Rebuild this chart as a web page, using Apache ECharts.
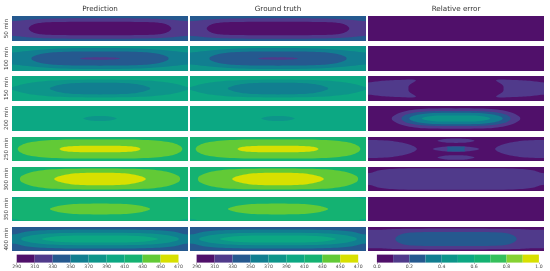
<!DOCTYPE html>
<html><head><meta charset="utf-8">
<style>html,body{margin:0;padding:0;background:#fff}#c{width:550px;height:271px;filter:blur(.35px)}</style>
<script src="https://cdn.jsdelivr.net/npm/echarts@6/dist/echarts.min.js"></script></head>
<body><div id="c"></div>
<script>
const columnTitles = ['Prediction', 'Ground truth', 'Relative error'];
const rowLabels = ['50 min', '100 min', '150 min', '200 min', '250 min', '300 min', '350 min', '400 min'];
const tempLevels = [290, 310, 330, 350, 370, 390, 410, 430, 450, 470];
const errorLevels = [0, .1, .2, .3, .4, .5, .6, .7, .8, .9, 1];
const tempColors = ['#50106a', '#503a8b', '#25598f', '#117e90', '#0d958a', '#0ca883', '#14b272', '#62ca36', '#d8e000'];
const errorColors = ['#50106a', '#503a8b', '#25598f', '#117e90', '#0d958a', '#0ca883', '#14b272', '#35c05c', '#86d233', '#d8e000'];
const FULL = [[0, 3], [3, 3], [3, 0]];
// each contour: [lower level of the band, quarter outline [u, v], centre u, centre v]
const temp50 = [[330, FULL], [310, [[0, .82], [.5, .8], [.75, .74], [.9, .64], [1.05, .5], [1.05, 0]]], [290, [[0, .54], [.5, .52], [.68, .45], [.77, .28], [.81, 0]]]];
const temp100 = [[370, FULL], [350, [[0, .84], [.5, .78], [.8, .62], [.95, .5], [1.05, .42], [1.05, 0]]], [330, [[0, .57], [.4, .54], [.62, .42], [.74, .22], [.78, 0]]], [310, [[0, .09], [.15, .08], [.225, 0]]]];
const temp150 = [[390, FULL], [370, [[0, .72], [.5, .65], [.8, .45], [.95, .2], [1.03, 0]]], [350, [[0, .47], [.3, .43], [.47, .28], [.57, 0]]]];
const temp200 = [[390, FULL], [370, [[0, .2], [.1, .17], [.19, 0]]]];
const temp250 = [[410, FULL], [430, [[0, .8], [.5, .76], [.78, .58], [.9, .3], [.935, 0]]], [450, [[0, .28], [.25, .26], [.4, .18], [.46, 0]]]];
const temp300 = [[410, FULL], [430, [[0, .87], [.5, .82], [.75, .62], [.88, .3], [.91, 0]]], [450, [[0, .52], [.28, .47], [.45, .26], [.52, 0]]]];
const temp350 = [[390, FULL], [410, [[0, 1.1], [.8, 1], [.95, .85], [1.05, .7], [1.05, 0]]], [430, [[0, .45], [.3, .41], [.48, .24], [.57, 0]]]];
const temp400 = [[330, FULL], [350, [[0, .8], [.5, .77], [.8, .65], [.95, .42], [1.05, .3], [1.05, 0]]], [370, [[0, .52], [.5, .48], [.75, .33], [.87, .14], [.895, 0]]], [390, [[0, .3], [.35, .28], [.56, .17], [.66, 0]]]];
const err50 = [[0, FULL]];
const err100 = [[0, FULL]];
const err150 = [[0, FULL], [.1, [[0, .49], [.14, .6], [.33, .68], [.54, .68], [.47, .27], [.46, 0]], 1, 0]];
const err200 = [[0, FULL], [.1, [[0, .81], [.4, .77], [.62, .5], [.71, .2], [.73, 0]]], [.2, [[0, .6], [.35, .56], [.55, .35], [.62, 0]]], [.3, [[0, .46], [.3, .42], [.47, .24], [.53, 0]]], [.4, [[0, .24], [.25, .22], [.39, 0]]]];
const err250 = [[0, FULL], [.1, [[0, .75], [.25, .68], [.45, .42], [.555, 0]], 1, 0], [.1, [[0, .18], [.12, .15], [.21, 0]], 0, .69], [.1, [[0, .22], [.15, .18], [.265, 0]], 0, 0], [.2, [[0, .2], [.095, .2], [.095, 0]], 0, 0], [.1, [[0, .19], [.12, .16], [.21, 0]], 0, -.71]];
const err300 = [[0, FULL], [.1, [[0, .9], [.6, .88], [.85, .75], [.95, .55], [1.05, .38], [1.05, 0]]]];
const err350 = [[0, FULL]];
const err400 = [[0, FULL], [.1, [[0, .87], [.6, .85], [.85, .78], [1.05, .7], [1.05, 0]]], [.2, [[0, .58], [.45, .56], [.62, .4], [.69, 0]]]];
const tempRows = [temp50, temp100, temp150, temp200, temp250, temp300, temp350, temp400];
const errorRows = [err50, err100, err150, err200, err250, err300, err350, err400];

const colX = [[12, 176], [190, 176], [368, 176]];
const rowY = [16, 46, 76, 106, 137, 167, 197, 227];
const rowH = [25, 25, 25, 25, 24, 24, 24, 24];
const barX = [[16.7, 161.8], [196.6, 161.6], [376.9, 162]];

const grid = [], xAxis = [], yAxis = [], series = [];
function outlinePoints(q, cu, cv) {
  const pts = [];
  q.forEach(p => pts.push([cu + p[0], cv + p[1]]));
  for (let i = q.length - 2; i >= 0; i--) pts.push([cu + q[i][0], cv - q[i][1]]);
  for (let i = 1; i < q.length; i++) pts.push([cu - q[i][0], cv - q[i][1]]);
  for (let i = q.length - 2; i > 0; i--) pts.push([cu - q[i][0], cv + q[i][1]]);
  return pts;
}
function roundOutline(pts) {            // closed Catmull-Rom through the outline points
  const out = [], n = pts.length;
  for (let i = 0; i < n; i++) {
    const p0 = pts[(i + n - 1) % n], p1 = pts[i], p2 = pts[(i + 1) % n], p3 = pts[(i + 2) % n];
    for (let s = 0; s < 8; s++) {
      const t = s / 8, t2 = t * t, t3 = t2 * t;
      out.push([0, 1].map(k => 0.5 * (2 * p1[k] + (p2[k] - p0[k]) * t + (2 * p0[k] - 5 * p1[k] + 4 * p2[k] - p3[k]) * t2 + (3 * p1[k] - p0[k] - 3 * p2[k] + p3[k]) * t3)));
    }
  }
  return out;
}
function addPanel(contours, levels, colors, col, row) {
  const idx = grid.length;
  grid.push({left: colX[col][0], width: colX[col][1], top: rowY[row], height: rowH[row]});
  xAxis.push({gridIndex: idx, type: 'value', min: -1, max: 1, show: false});
  const hasName = col === 0;
  yAxis.push({gridIndex: idx, type: 'value', min: -1, max: 1, show: hasName,
    name: hasName ? rowLabels[row] : '', nameLocation: 'middle', nameRotate: 90, nameGap: 2,
    nameTextStyle: {fontSize: 5.6, color: '#444', fontFamily: 'DejaVu Sans'},
    axisLine: {show: false}, axisTick: {show: false}, axisLabel: {show: false}, splitLine: {show: false}});
  series.push({type: 'custom', coordinateSystem: 'cartesian2d', xAxisIndex: idx, yAxisIndex: idx, clip: true, silent: true,
    data: contours.map((c, i) => [i]),
    encode: {x: 0, y: 0},
    renderItem(params, api) {
      const c = contours[params.dataIndex];
      const fill = colors[levels.indexOf(c[0])];
      const cu = c[2] || 0, cv = c[3] || 0;
      const centres = cu ? [cu, -cu] : [0];
      return {type: 'group', children: centres.map(u => {
        const raw = outlinePoints(c[1], u, cv);
        const pts = c[1] === FULL ? raw : roundOutline(raw);
        return {type: 'polygon', shape: {points: pts.map(p => api.coord(p))}, style: {fill, stroke: null}};
      })};
    }});
}
function addBar(levels, colors, col, fmt, interval) {
  const idx = grid.length;
  grid.push({left: barX[col][0], width: barX[col][1], top: 254.6, height: 8});
  xAxis.push({gridIndex: idx, type: 'value', min: levels[0], max: levels[levels.length - 1], interval,
    axisLine: {show: false}, axisTick: {show: true, length: 1.5, lineStyle: {color: '#666', width: .5}},
    splitLine: {show: false},
    axisLabel: {fontSize: 4.6, color: '#444', margin: 2, fontFamily: 'DejaVu Sans', formatter: fmt, showMinLabel: true, showMaxLabel: true, hideOverlap: false}});
  yAxis.push({gridIndex: idx, type: 'value', min: 0, max: 1, show: false});
  series.push({type: 'custom', coordinateSystem: 'cartesian2d', xAxisIndex: idx, yAxisIndex: idx, silent: true,
    data: colors.map((c, i) => [levels[i], levels[i + 1]]),
    encode: {x: [0, 1], y: []},
    renderItem(params, api) {
      const a = api.coord([api.value(0), 0]), b = api.coord([api.value(1), 1]);
      return {type: 'rect', shape: {x: a[0], y: b[1], width: b[0] - a[0], height: a[1] - b[1]},
        style: {fill: colors[params.dataIndex]}};
    }});
}
rowLabels.forEach((_, r) => {
  addPanel(tempRows[r], tempLevels, tempColors, 0, r);
  addPanel(tempRows[r], tempLevels, tempColors, 1, r);
  addPanel(errorRows[r], errorLevels, errorColors, 2, r);
});
addBar(tempLevels, tempColors, 0, v => String(v), 20);
addBar(tempLevels, tempColors, 1, v => String(v), 20);
addBar(errorLevels, errorColors, 2, v => v.toFixed(1), 0.2);

const chart = echarts.init(document.getElementById('c'), null, {renderer: 'canvas'});
chart.setOption({
  animation: false, backgroundColor: '#fff',
  title: columnTitles.map((t, i) => ({text: t, left: colX[i][0] + colX[i][1] / 2, top: 6, padding: 0, textAlign: 'center',
    textStyle: {fontSize: 7.2, fontWeight: 'normal', color: '#333', fontFamily: 'DejaVu Sans'}})),
  grid, xAxis, yAxis, series
});
</script></body></html>
